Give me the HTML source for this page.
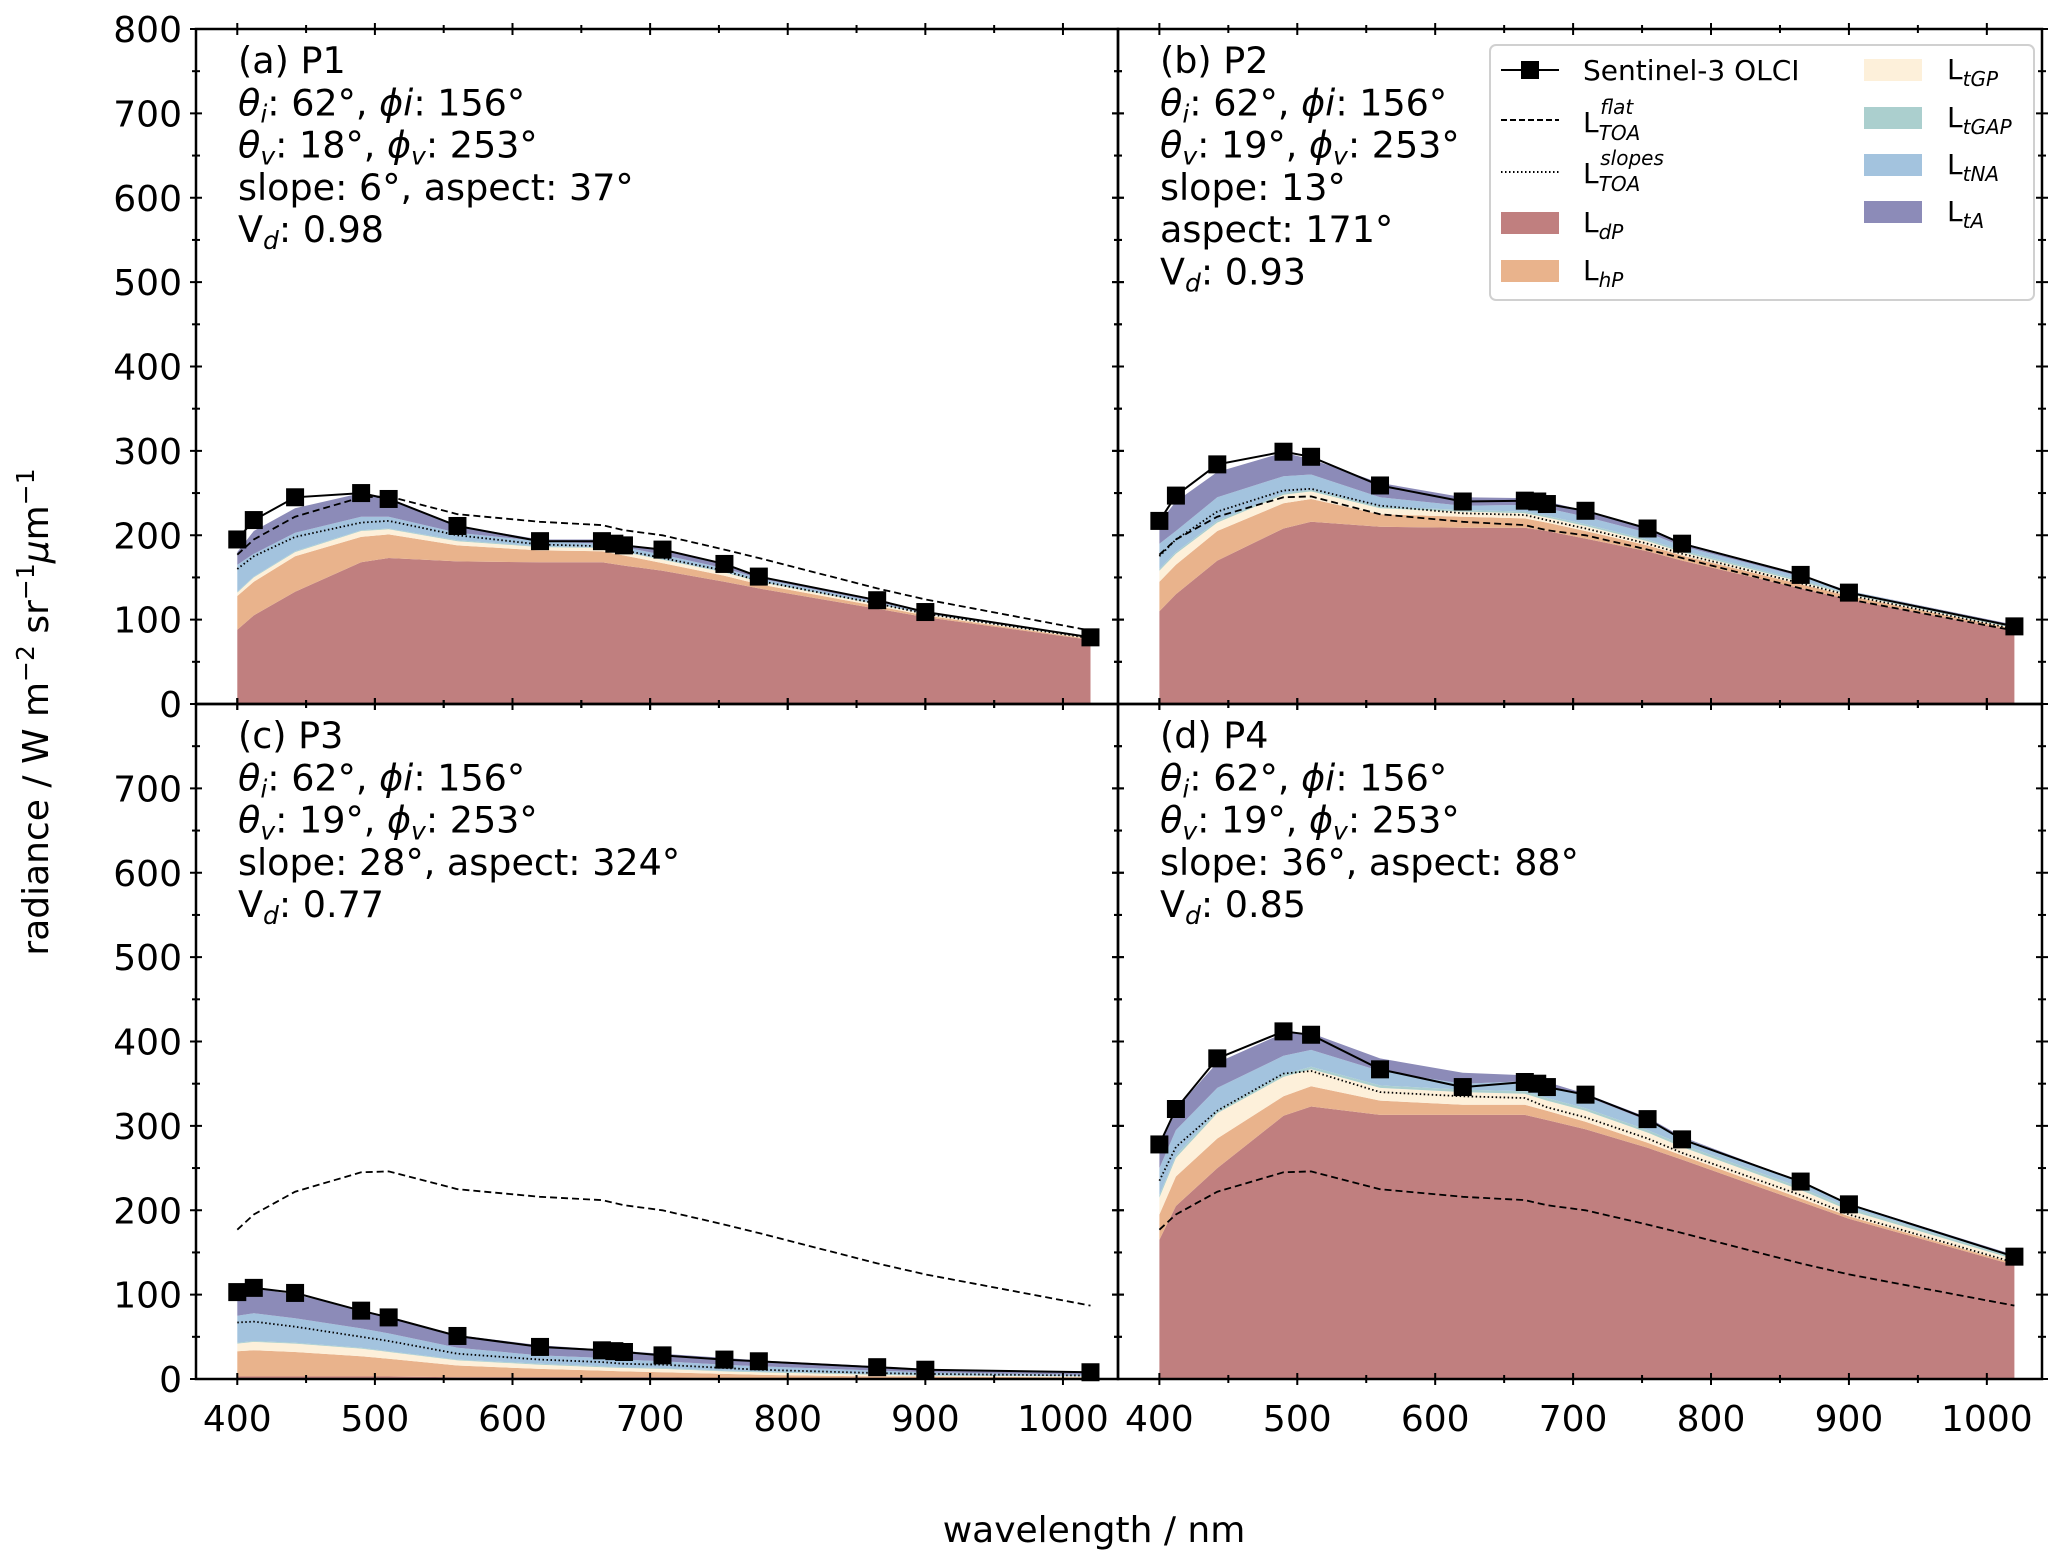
<!DOCTYPE html>
<html><head><meta charset="utf-8"><style>
html,body{margin:0;padding:0;background:#fff;}
svg{display:block;font-family:"DejaVu Sans","Liberation Sans",sans-serif;}
</style></head><body>
<svg id="chart" width="2067" height="1567" viewBox="0 0 2067 1567" xmlns="http://www.w3.org/2000/svg">
<g id="layers"></g>
<text x="1094" y="1542" font-size="36" text-anchor="middle">wavelength / nm</text>
<text transform="translate(48,712) rotate(-90)" font-size="36" text-anchor="middle">radiance  / W m<tspan dy="-14" font-size="25">−2</tspan><tspan dy="14"> sr</tspan><tspan dy="-14" font-size="25">−1</tspan><tspan dy="14" font-style="italic">μ</tspan>m<tspan dy="-14" font-size="25">−1</tspan></text>
<g>
<rect x="1490" y="45" width="544" height="255" rx="6" fill="#fff" fill-opacity="0.85" stroke="#d0d0d0" stroke-width="2"/>
<g><line x1="1501" y1="70" x2="1559" y2="70" stroke="#000" stroke-width="2"/><rect x="1521" y="61" width="18" height="18" fill="#000"/><text x="1583" y="80" font-size="28">Sentinel-3 OLCI</text></g>
<g><line x1="1501" y1="120" x2="1559" y2="120" stroke="#000" stroke-width="2" stroke-dasharray="6,3"/><text x="1583" y="132" font-size="28">L<tspan font-size="20" font-style="italic" dy="8">TOA</tspan><tspan font-size="20" font-style="italic" dx="-40" dy="-26">flat</tspan></text></g>
<g><line x1="1501" y1="172" x2="1559" y2="172" stroke="#000" stroke-width="2" stroke-dasharray="1.5,2.5"/><text x="1583" y="183" font-size="28">L<tspan font-size="20" font-style="italic" dy="8">TOA</tspan><tspan font-size="20" font-style="italic" dx="-40" dy="-26">slopes</tspan></text></g>
<g><rect x="1501" y="212" width="58" height="22" fill="#c07f7f"/><text x="1583" y="232" font-size="28">L<tspan font-size="20" font-style="italic" dy="7">dP</tspan></text></g>
<g><rect x="1501" y="260" width="58" height="22" fill="#e9b38c"/><text x="1583" y="280" font-size="28">L<tspan font-size="20" font-style="italic" dy="7">hP</tspan></text></g>
<g><rect x="1864" y="59" width="58" height="22" fill="#fdf0da"/><text x="1947" y="79" font-size="28">L<tspan font-size="20" font-style="italic" dy="7">tGP</tspan></text></g>
<g><rect x="1864" y="107" width="58" height="22" fill="#abcfce"/><text x="1947" y="127" font-size="28">L<tspan font-size="20" font-style="italic" dy="7">tGAP</tspan></text></g>
<g><rect x="1864" y="154" width="58" height="22" fill="#a3c3de"/><text x="1947" y="174" font-size="28">L<tspan font-size="20" font-style="italic" dy="7">tNA</tspan></text></g>
<g><rect x="1864" y="201" width="58" height="22" fill="#8c8bb8"/><text x="1947" y="221" font-size="28">L<tspan font-size="20" font-style="italic" dy="7">tA</tspan></text></g>
</g>
</svg>
<script>
const wl = [400,412,442,490,510,560,620,665,681,709,754,779,865,900,1020];
const olciWl = [400,412,442,490,510,560,620,665,674,681,709,754,779,865,900,1020];
const flatToa = [177,195,222,245,246,225,216,212,206,200,183,173,137,124,87];
const p1Ldp  = [88,105,133,168,173,169,168,168,164,158,145,137,113,103,76];
const p1Lhp  = [128,145,175,198,201,188,182,181,176,167,152,142,116,105,77];
const p1Ltgp = [132,150,180,205,207,193,186,185,180,171,156,145,118,107,78];
const p1Ltgap= [133,151,181,206,208,194,187,186,181,172,157,146,119,107,78];
const p1Ltna = [165,178,203,222,222,203,193,190,186,177,161,149,121,108,79];
const p1Lta  = [180,205,232,250,243,211,195,195,189,182,165,151,123,109,79];
const p1Slopes = [160,175,198,215,217,200,189,187,182,173,158,146,119,107,78];
const p1Olci = [195,218,245,250,243,211,193,193,190,188,183,166,151,123,109,79];

const p2Ldp  = [110,130,170,208,216,210,209,209,205,196,181,170,137,124,87];
const p2Lhp  = [145,165,205,238,243,225,222,220,215,205,188,176,142,128,89];
const p2Ltgp = [158,178,215,248,252,232,228,226,221,211,193,180,145,130,90];
const p2Ltgap= [160,180,217,250,254,234,230,228,223,213,195,182,147,131,91];
const p2Ltna = [190,205,245,270,272,245,235,236,232,222,203,187,151,134,93];
const p2Lta  = [215,240,275,298,290,262,245,244,240,229,209,191,153,134,94];
const p2Slopes = [175,195,228,253,255,235,226,224,218,208,190,178,143,129,89];
const p2Olci = [217,247,284,299,293,259,240,241,240,237,229,208,190,153,132,92];

const p3Ldp  = [3,3,3,3,3,2,2,2,2,2,1,1,1,1,1];
const p3Lhp  = [33,34,32,27,24,16,12,10,9,8,6,5,3,3,2];
const p3Ltgp = [42,44,42,36,32,22,17,14,13,12,9,8,5,4,3];
const p3Ltgap= [43,45,43,37,33,23,18,15,14,13,10,9,6,5,3];
const p3Ltna = [75,78,72,60,54,37,28,25,23,21,17,15,10,8,5];
const p3Lta  = [100,108,100,82,74,52,40,35,33,30,25,22,15,12,8];
const p3Slopes = [67,68,62,50,45,30,23,20,18,17,13,11,7,6,4];
const p3Olci = [103,108,102,81,73,51,38,34,33,32,28,23,21,14,11,8];

const p4Ldp  = [165,205,250,312,323,313,313,313,307,296,274,260,210,190,135];
const p4Lhp  = [195,240,285,335,347,330,325,325,318,305,280,265,214,193,137];
const p4Ltgp = [215,262,315,358,367,345,340,338,330,318,292,275,224,200,142];
const p4Ltgap= [218,265,318,361,370,348,343,341,333,321,295,278,227,203,144];
const p4Ltna = [250,295,345,383,390,365,350,353,347,335,306,286,233,207,146];
const p4Lta  = [275,320,375,410,410,380,363,360,352,338,310,287,234,208,147];
const p4Slopes = [235,275,318,362,365,340,335,333,322,310,285,268,218,195,138];
const p4Olci = [278,320,380,412,408,367,346,352,350,346,337,308,284,234,207,145];

const layerColors = ['#c07f7f','#e9b38c','#fdf0da','#abcfce','#a3c3de','#8c8bb8'];
const layerNames = ['ldp','lhp','ltgp','ltgap','ltna','lta'];
const xTicks = [400,500,600,700,800,900,1000];
const yTicks = [0,100,200,300,400,500,600,700,800];

const IT='<tspan font-style="italic">';
const SUB=s=>'<tspan font-size="25" font-style="italic" dy="7">'+s+'</tspan><tspan dy="-7">';
const ang1=(a,b)=>IT+'θ</tspan>'+SUB('i')+': '+a+', </tspan>'+IT+'ϕi</tspan>: '+b;
const ang2=(a,b)=>IT+'θ</tspan>'+SUB('v')+': '+a+', </tspan>'+IT+'ϕ</tspan>'+SUB('v')+': '+b+'</tspan>';
const vd=v=>'V'+SUB('d')+': '+v+'</tspan>';

const panels = [
 {id:'a',x0:196,x1:1118,y0:29,y1:704,layers:[p1Ldp,p1Lhp,p1Ltgp,p1Ltgap,p1Ltna,p1Lta],slopes:p1Slopes,olci:p1Olci,ylab:true,xlab:false,top:true,
  text:['(a) P1',ang1('62°','156°'),ang2('18°','253°'),'slope: 6°, aspect: 37°',vd('0.98')]},
 {id:'b',x0:1118,x1:2042,y0:29,y1:704,layers:[p2Ldp,p2Lhp,p2Ltgp,p2Ltgap,p2Ltna,p2Lta],slopes:p2Slopes,olci:p2Olci,ylab:false,xlab:false,top:true,
  text:['(b) P2',ang1('62°','156°'),ang2('19°','253°'),'slope: 13°','aspect: 171°',vd('0.93')]},
 {id:'c',x0:196,x1:1118,y0:704,y1:1379,layers:[p3Ldp,p3Lhp,p3Ltgp,p3Ltgap,p3Ltna,p3Lta],slopes:p3Slopes,olci:p3Olci,ylab:true,xlab:true,top:false,
  text:['(c) P3',ang1('62°','156°'),ang2('19°','253°'),'slope: 28°, aspect: 324°',vd('0.77')]},
 {id:'d',x0:1118,x1:2042,y0:704,y1:1379,layers:[p4Ldp,p4Lhp,p4Ltgp,p4Ltgap,p4Ltna,p4Lta],slopes:p4Slopes,olci:p4Olci,ylab:false,xlab:true,top:false,
  text:['(d) P4',ang1('62°','156°'),ang2('19°','253°'),'slope: 36°, aspect: 88°',vd('0.85')]}
];
const NS='http://www.w3.org/2000/svg';
const root=document.getElementById('layers');
function mk(tag,attrs,parent){const e=document.createElementNS(NS,tag);for(const k in attrs)e.setAttribute(k,attrs[k]);(parent||root).appendChild(e);return e;}
panels.forEach(p=>{
  const g=mk('g',{});
  
  
  const xs=v=>p.x0+(v-370)/(1040-370)*(p.x1-p.x0);
  const ys=v=>p.y1-v/800*(p.y1-p.y0);
  for(let L=0;L<p.layers.length;L++){
    const top=p.layers[L], bot=L?p.layers[L-1]:null;
    let d='M'+wl.map((w,i)=>xs(w).toFixed(1)+','+ys(top[i]).toFixed(1)).join('L');
    for(let i=wl.length-1;i>=0;i--) d+='L'+xs(wl[i]).toFixed(1)+','+ys(bot?bot[i]:0).toFixed(1);
    const a=mk('path',{d:d+'Z',fill:layerColors[L],stroke:'none'},g);
    
    
  }
  const ln=(arr,xarr,dash,name)=>{
    const l=mk('path',{d:'M'+xarr.map((w,i)=>xs(w).toFixed(1)+','+ys(arr[i]).toFixed(1)).join('L'),fill:'none',stroke:'#000','stroke-width':dash?1.8:2,'stroke-dasharray':dash||'none'},g);
    
    
  };
  ln(flatToa,wl,'7,4','flat-toa-line-'+p.id);
  ln(p.slopes,wl,'1.5,2.5','slopes-toa-line-'+p.id);
  ln(p.olci,olciWl,null,'olci-line-'+p.id);
  p.olci.forEach((v,i)=>{
    const m=mk('rect',{x:xs(olciWl[i])-9,y:ys(v)-9,width:18,height:18,fill:'#000'},g);
    
    
  });
  mk('rect',{x:p.x0,y:p.y0,width:p.x1-p.x0,height:p.y1-p.y0,fill:'none',stroke:'#000','stroke-width':2.5},g);
  for(let v=400;v<=1000;v+=50){
    const major=v%100===0, x=xs(v), h=major?6:4;
    [p.y1,p.y0].forEach(yy=>mk('line',{x1:x,x2:x,y1:yy-h,y2:yy+h,stroke:'#000','stroke-width':2},g));
  }
  if(p.xlab) xTicks.forEach(v=>{const t=mk('text',{x:xs(v),y:p.y1+52,'font-size':36,'text-anchor':'middle'},g);t.textContent=v;
    });
  for(let v=0;v<=800;v+=50){
    const y=ys(v), h=v%100===0?6:4;
    [p.x0,p.x1].forEach(xx=>mk('line',{x1:xx-h,x2:xx+h,y1:y,y2:y,stroke:'#000','stroke-width':2},g));
  }
  if(p.ylab) yTicks.forEach(v=>{ if(!p.top && v===800) return;
    const t=mk('text',{x:p.x0-14,y:ys(v)+13,'font-size':36,'text-anchor':'end'},g);t.textContent=v;
    });
  p.text.forEach((s,i)=>{
    const t=mk('text',{x:p.x0+42,y:p.y0+44+i*42.3,'font-size':36.5},g);t.innerHTML=s;
    
  });
});
</script>
</body></html>
